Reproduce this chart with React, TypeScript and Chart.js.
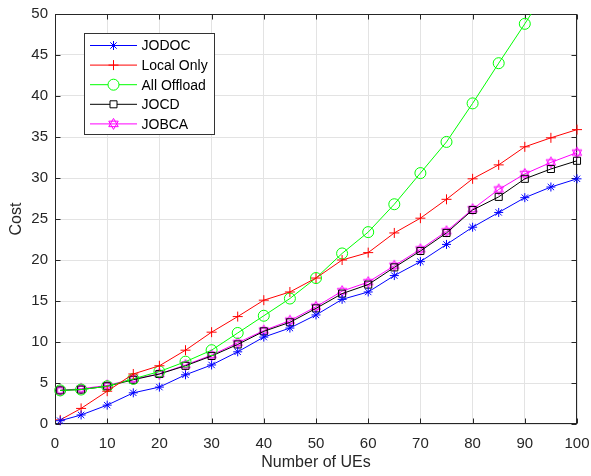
import React, { useEffect, useRef } from 'react';
import { Chart, registerables } from 'chart.js';

Chart.register(...registerables);

const numUEs = [1, 5, 10, 15, 20, 25, 30, 35, 40, 45, 50, 55, 60, 65, 70, 75, 80, 85, 90, 95, 100];

const jodoc = [0.4, 1.1, 2.3, 3.8, 4.5, 6.0, 7.2, 8.8, 10.6, 11.7, 13.3, 15.2, 16.1, 18.1, 19.8, 21.9, 24.0, 25.8, 27.6, 28.9, 29.9];
const localOnly = [0.5, 1.9, 4.0, 6.1, 7.1, 9.0, 11.2, 13.1, 15.1, 16.1, 17.8, 20.0, 20.9, 23.3, 25.1, 27.4, 29.9, 31.6, 33.8, 34.9, 35.9];
const allOffload = [4.1, 4.2, 4.6, 5.5, 6.4, 7.6, 9.0, 11.1, 13.2, 15.3, 17.8, 20.8, 23.4, 26.8, 30.6, 34.4, 39.1, 44.0, 48.8, 53.8, 59.0];
const jocd = [4.1, 4.2, 4.6, 5.4, 6.1, 7.1, 8.3, 9.7, 11.3, 12.4, 14.1, 15.9, 17.0, 19.1, 21.1, 23.3, 26.1, 27.7, 29.9, 31.1, 32.1];
const jobca = [4.1, 4.3, 4.7, 5.5, 6.1, 7.2, 8.4, 9.9, 11.4, 12.6, 14.3, 16.2, 17.3, 19.3, 21.3, 23.5, 26.2, 28.6, 30.5, 31.9, 33.1];

const seriesLabels = ['JODOC', 'Local Only', 'All Offload', 'JOCD', 'JOBCA'];
const seriesColors = ['#0000ff', '#ff0000', '#00ff00', '#000000', '#ff00ff'];
const seriesMarkers = ['star', 'cross', 'circle', 'rect', 'hexagram'];
const seriesValues = [jodoc, localOnly, allOffload, jocd, jobca];

const xTickStep = 10;
const yTickStep = 5;
const xMin = 0, xMax = 100, yMin = 0, yMax = 50;

const FONT = "'Liberation Sans', Arial, Helvetica, sans-serif";
const AXIS_COLOR = '#262626';

function hexPath(ctx: CanvasRenderingContext2D, cx: number, cy: number, R: number) {
  ctx.beginPath();
  for (let t = 0; t < 2; t++) {
    const base = t === 0 ? -90 : 90;
    for (let k = 0; k < 3; k++) {
      const a = ((base + k * 120) * Math.PI) / 180;
      const px = cx + R * Math.cos(a);
      const py = cy + R * Math.sin(a);
      if (k === 0) ctx.moveTo(px, py);
      else ctx.lineTo(px, py);
    }
    ctx.closePath();
  }
  ctx.stroke();
}

function makeHexagram(color: string, R: number): HTMLCanvasElement {
  const size = 16;
  const c = document.createElement('canvas');
  c.width = size;
  c.height = size;
  const ctx = c.getContext('2d')!;
  ctx.strokeStyle = color;
  ctx.lineWidth = 1;
  hexPath(ctx, size / 2, size / 2, R);
  return c;
}

function drawMarker(ctx: CanvasRenderingContext2D, style: string, x: number, y: number, color: string) {
  ctx.save();
  ctx.strokeStyle = color;
  ctx.lineWidth = 1;
  ctx.beginPath();
  if (style === 'star') {
    const r = 4.5;
    const d = r * Math.SQRT1_2;
    ctx.moveTo(x - r, y); ctx.lineTo(x + r, y);
    ctx.moveTo(x, y - r); ctx.lineTo(x, y + r);
    ctx.moveTo(x - d, y - d); ctx.lineTo(x + d, y + d);
    ctx.moveTo(x - d, y + d); ctx.lineTo(x + d, y - d);
    ctx.stroke();
  } else if (style === 'cross') {
    const r = 5;
    ctx.moveTo(x - r, y); ctx.lineTo(x + r, y);
    ctx.moveTo(x, y - r); ctx.lineTo(x, y + r);
    ctx.stroke();
  } else if (style === 'circle') {
    ctx.arc(x, y, 5.5, 0, Math.PI * 2);
    ctx.fillStyle = '#fff';
    ctx.fill();
    ctx.stroke();
  } else if (style === 'rect') {
    ctx.rect(x - 3.5, y - 3.5, 7, 7);
    ctx.fillStyle = '#fff';
    ctx.fill();
    ctx.stroke();
  } else if (style === 'hexagram') {
    hexPath(ctx, x, y, 5.5);
  }
  ctx.restore();
}

const boxPlugin = {
  id: 'matlabBox',
  beforeDatasetsDraw(chart: any) {
    const { ctx, chartArea } = chart;
    const { left, right, top, bottom } = chartArea;
    ctx.save();
    ctx.strokeStyle = AXIS_COLOR;
    ctx.lineWidth = 1;
    const L = Math.round(left) + 0.5;
    const R = Math.round(right) - 0.5;
    const T = Math.round(top) + 0.5;
    const B = Math.round(bottom) - 0.5;
    ctx.strokeRect(L, T, R - L, B - T);
    const xs = chart.scales.x;
    const ys = chart.scales.y;
    const tl = 5;
    ctx.beginPath();
    xs.ticks.forEach((t: any) => {
      const px = Math.round(xs.getPixelForValue(t.value)) + 0.5;
      ctx.moveTo(px, B); ctx.lineTo(px, B - tl);
      ctx.moveTo(px, T); ctx.lineTo(px, T + tl);
    });
    ys.ticks.forEach((t: any) => {
      const py = Math.round(ys.getPixelForValue(t.value)) + 0.5;
      ctx.moveTo(L, py); ctx.lineTo(L + tl, py);
      ctx.moveTo(R, py); ctx.lineTo(R - tl, py);
    });
    ctx.stroke();
    ctx.restore();
  },
  afterDraw(chart: any) {
    const { ctx } = chart;
    ctx.save();
    const bx = 84.5, by = 33.5, bw = 130, bh = 101;
    ctx.fillStyle = '#ffffff';
    ctx.fillRect(bx, by, bw, bh);
    ctx.strokeStyle = '#333333';
    ctx.lineWidth = 1;
    ctx.strokeRect(bx, by, bw, bh);
    ctx.font = `14px ${FONT}`;
    ctx.textBaseline = 'middle';
    ctx.textAlign = 'left';
    seriesLabels.forEach((label, i) => {
      const y = 45.5 + i * 19.6;
      ctx.strokeStyle = seriesColors[i];
      ctx.lineWidth = 1;
      ctx.beginPath();
      ctx.moveTo(90, y);
      ctx.lineTo(137, y);
      ctx.stroke();
      drawMarker(ctx, seriesMarkers[i], 113.5, y, seriesColors[i]);
      ctx.fillStyle = '#000000';
      ctx.fillText(label, 141.5, y + 1);
    });
    ctx.restore();
  },
};

export default function App() {
  const canvasRef = useRef<HTMLCanvasElement | null>(null);

  useEffect(() => {
    if (!canvasRef.current) return;
    const hex = makeHexagram('#ff00ff', 5.5);
    const radii: Record<string, number> = { star: 4.5, cross: 5, circle: 5.5, rect: 5, hexagram: 5.5 };
    const datasets = seriesLabels.map((label, i) => {
      const marker = seriesMarkers[i];
      return {
        label,
        data: numUEs.map((x, j) => ({ x, y: seriesValues[i][j] })),
        borderColor: seriesColors[i],
        backgroundColor: marker === 'circle' || marker === 'rect' ? 'rgba(255,255,255,0)' : seriesColors[i],
        borderWidth: 1,
        pointStyle: marker === 'hexagram' ? hex : marker,
        pointRadius: radii[marker],
        pointBorderWidth: 1,
        pointBorderColor: seriesColors[i],
        pointBackgroundColor: 'rgba(255,255,255,0)',
        tension: 0,
        clip: marker === 'circle' ? { left: false, top: 0, right: false, bottom: false } : false,
      };
    });

    const chart = new Chart(canvasRef.current, {
      type: 'line',
      data: { datasets: datasets as any },
      plugins: [boxPlugin],
      options: {
        animation: false,
        responsive: false,
        maintainAspectRatio: false,
        layout: { padding: { top: 14, right: 14, left: 0, bottom: 0 } },
        plugins: {
          legend: { display: false },
          tooltip: { enabled: false },
        },
        scales: {
          x: {
            type: 'linear',
            min: xMin,
            max: xMax,
            afterFit: (s: any) => {
              s.height = 52;
              s.paddingLeft = 0;
              s.paddingRight = 0;
            },
            ticks: {
              stepSize: xTickStep,
              padding: 11,
              color: AXIS_COLOR,
              font: { family: FONT, size: 15 },
              maxRotation: 0,
            },
            grid: { color: '#e3e3e3', drawTicks: false, lineWidth: 1 },
            border: { display: false },
            title: {
              display: true,
              text: 'Number of UEs',
              color: AXIS_COLOR,
              font: { family: FONT, size: 16 },
              padding: { top: 0, bottom: 4 },
            },
          },
          y: {
            type: 'linear',
            min: yMin,
            max: yMax,
            afterFit: (s: any) => {
              s.width = 55;
              s.paddingTop = 0;
              s.paddingBottom = 0;
            },
            ticks: {
              stepSize: yTickStep,
              padding: 7,
              color: AXIS_COLOR,
              font: { family: FONT, size: 15 },
            },
            grid: { color: '#e3e3e3', drawTicks: false, lineWidth: 1 },
            border: { display: false },
            title: {
              display: true,
              text: 'Cost',
              color: AXIS_COLOR,
              font: { family: FONT, size: 16 },
              padding: { top: 7, bottom: 0 },
            },
          },
        },
      },
    });
    return () => chart.destroy();
  }, []);

  return (
    <div style={{ position: 'absolute', left: 0, top: 0, width: 591, height: 476, background: '#fff' }}>
      <canvas ref={canvasRef} width={591} height={476} style={{ display: 'block' }} />
    </div>
  );
}
